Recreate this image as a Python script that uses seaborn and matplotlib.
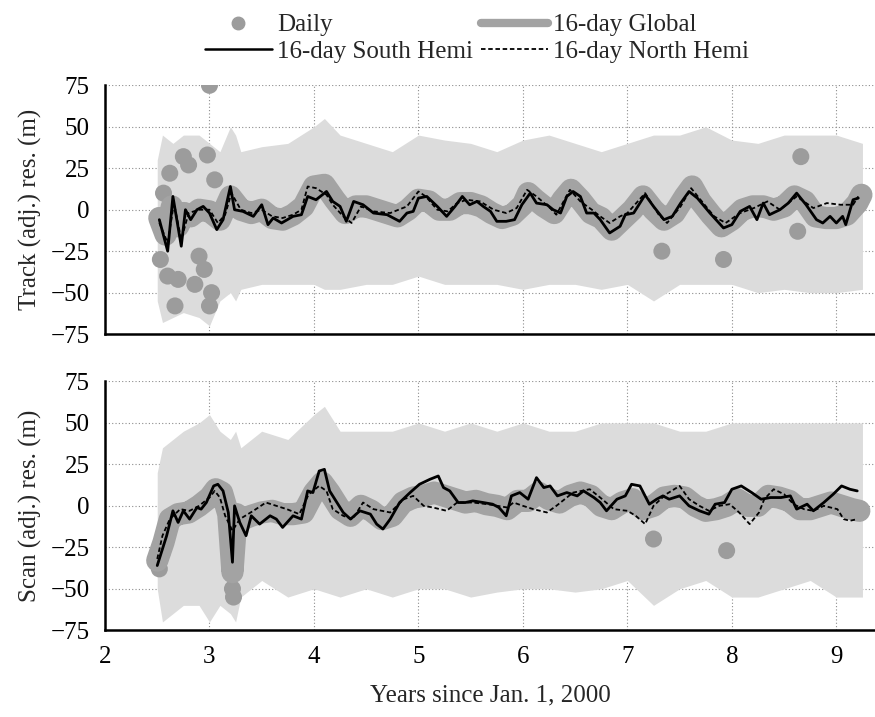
import matplotlib
matplotlib.use("Agg")
import matplotlib.pyplot as plt
from matplotlib.lines import Line2D
import seaborn as sns

# ---- data (years since 2000, residual in m) ----
# envelope of the daily error bars (grey cloud)
env_x = [2.50, 2.55, 2.65, 2.75, 2.90, 3.00, 3.10, 3.20, 3.25, 3.30, 3.50, 3.75,
         4.00, 4.10, 4.25, 4.50, 4.75, 5.00, 5.25, 5.50, 5.75, 6.00, 6.25, 6.50,
         6.75, 7.00, 7.25, 7.50, 7.75, 8.00, 8.25, 8.50, 8.75, 9.00, 9.25]
track_hi = [30, 45, 40, 45, 45, 40, 35, 50, 45, 35, 38, 40, 50, 55, 45, 40, 35, 45,
            42, 40, 35, 42, 45, 40, 35, 40, 45, 45, 50, 42, 40, 45, 45, 45, 40]
track_lo = [-55, -68, -65, -62, -65, -70, -55, -50, -55, -48, -45, -45, -45, -48,
            -48, -45, -45, -40, -45, -45, -45, -48, -45, -45, -48, -45, -55, -45,
            -45, -45, -50, -48, -50, -50, -48]
scan_hi = [20, 35, 40, 45, 50, 55, 45, 40, 45, 35, 45, 40, 55, 60, 45, 45, 45, 50,
           45, 50, 45, 50, 45, 45, 50, 50, 50, 45, 45, 50, 50, 50, 50, 50, 50]
scan_lo = [-50, -70, -65, -60, -60, -70, -60, -65, -70, -55, -45, -55, -50, -52,
           -55, -50, -55, -50, -50, -55, -52, -50, -50, -52, -50, -45, -60, -50,
           -45, -55, -55, -50, -45, -55, -55]

# daily points that stand out from the 16-day band
track_daily_x = [2.53, 2.56, 2.60, 2.62, 2.67, 2.70, 2.75, 2.80, 2.86, 2.90, 2.95,
                 2.98, 3.00, 3.00, 3.02, 3.05, 7.33, 7.92, 8.63, 8.66]
track_daily_y = [-30, 10, -40, 22, -58, -42, 32, 27, -45, -28, -36, 33, 75, -58,
                 -50, 18, -25, -30, -13, 32]
scan_daily_x = [2.52, 2.55, 3.20, 3.22, 3.23, 7.25, 7.95]
scan_daily_y = [-38, -28, -30, -50, -55, -20, -27]

# track: 16-day global
track_glob_x = [2.52, 2.58, 2.64, 2.70, 2.76, 2.82, 2.90, 3.00, 3.10, 3.20, 3.30,
                3.40, 3.50, 3.60, 3.70, 3.80, 3.90, 4.00, 4.10, 4.20, 4.30, 4.40,
                4.50, 4.60, 4.70, 4.80, 4.90, 5.00, 5.10, 5.20, 5.30, 5.40, 5.50,
                5.60, 5.70, 5.80, 5.90, 6.00, 6.05, 6.12, 6.20, 6.30, 6.38, 6.46,
                6.55, 6.65, 6.75, 6.85, 6.95, 7.05, 7.15, 7.25, 7.35, 7.45, 7.55,
                7.62, 7.70, 7.80, 7.90, 8.00, 8.10, 8.20, 8.30, 8.40, 8.50, 8.60,
                8.70, 8.80, 8.90, 9.00, 9.10, 9.20, 9.24]
track_glob_y = [-5, -15, 2, -10, -2, -4, 0, -1, -6, 8, 0, -2, 0, -5, -6, -3, 2, 14,
                15, 6, -2, 2, 2, 0, -2, -4, 0, 6, 5, 0, 0, 4, 4, 2, -2, -5, -3, 3,
                10, 6, 2, -2, 6, 12, 6, -2, -5, -12, -6, 0, 8, 0, -6, -2, 8, 14, 5,
                -3, -10, -6, 0, 2, 2, 0, 2, 8, 5, -4, -5, -5, -3, 4, 9]
# track: 16-day south hemisphere
track_south_x = [2.52, 2.60, 2.65, 2.73, 2.77, 2.82, 2.88, 2.94, 3.00, 3.07, 3.13,
                 3.20, 3.24, 3.32, 3.42, 3.50, 3.56, 3.61, 3.69, 3.80, 3.88, 3.94,
                 4.02, 4.12, 4.18, 4.25, 4.31, 4.38, 4.47, 4.57, 4.70, 4.82, 4.89,
                 4.95, 5.00, 5.08, 5.18, 5.27, 5.35, 5.42, 5.49, 5.56, 5.62, 5.69,
                 5.75, 5.84, 5.92, 5.99, 6.07, 6.13, 6.23, 6.29, 6.36, 6.42, 6.48,
                 6.55, 6.61, 6.68, 6.74, 6.83, 6.93, 6.98, 7.06, 7.17, 7.25, 7.35,
                 7.43, 7.51, 7.59, 7.67, 7.79, 7.92, 8.00, 8.08, 8.17, 8.24, 8.30,
                 8.36, 8.46, 8.54, 8.62, 8.71, 8.81, 8.87, 8.94, 9.00, 9.06, 9.09,
                 9.16, 9.21]
track_south_y = [-6, -25, 8, -22, 0, -6, 0, 2, -2, -12, -6, 14, 0, -1, -4, 3, -9,
                 -5, -8, -4, -3, 8, 6, 11, 5, 2, -7, 5, 3, -2, -3, -7, -2, -1, 7,
                 8, 2, -4, 2, 8, 3, 5, 2, -1, -7, -7, -6, 3, 10, 4, 3, 0, -2, 8,
                 11, 8, -2, -2, -6, -14, -10, -3, -2, 9, 2, -6, -4, 4, 11, 7, -2,
                 -11, -9, -1, 2, -6, 4, -3, 0, 4, 10, 3, -6, -8, -4, -8, -4, -9,
                 6, 7]
# track: 16-day north hemisphere
track_north_x = [2.52, 2.60, 2.66, 2.73, 2.80, 2.90, 3.00, 3.08, 3.15, 3.21, 3.30,
                 3.40, 3.50, 3.60, 3.70, 3.80, 3.88, 3.94, 4.02, 4.12, 4.18, 4.28,
                 4.36, 4.45, 4.57, 4.73, 4.89, 5.00, 5.07, 5.18, 5.28, 5.37, 5.46,
                 5.59, 5.72, 5.84, 5.94, 6.04, 6.13, 6.26, 6.32, 6.45, 6.55, 6.66,
                 6.74, 6.83, 6.93, 7.00, 7.17, 7.30, 7.38, 7.51, 7.61, 7.70, 7.83,
                 7.94, 8.08, 8.21, 8.34, 8.46, 8.62, 8.78, 8.91, 9.04, 9.16, 9.21]
track_north_y = [-8, -20, 4, -18, -2, 0, 0, -8, -3, 10, 0, -2, 0, -4, -5, -3, 0,
                 14, 13, 9, 3, -4, -8, 2, -1, -2, 2, 11, 8, 0, -1, 4, 6, 5, 0, -2,
                 1, 12, 8, 1, -3, 12, 5, 0, -4, -8, -4, -2, 10, -3, -8, 2, 13, 6,
                 -4, -8, -2, 1, 5, 0, 8, 1, 4, 3, 3, 8]

# scan: 16-day global
scan_glob_x = [2.50, 2.56, 2.62, 2.70, 2.80, 2.90, 3.00, 3.06, 3.12, 3.18, 3.22,
               3.26, 3.32, 3.40, 3.50, 3.60, 3.70, 3.80, 3.90, 4.00, 4.08, 4.15,
               4.25, 4.35, 4.45, 4.55, 4.65, 4.75, 4.85, 4.95, 5.05, 5.15, 5.25,
               5.35, 5.45, 5.55, 5.65, 5.75, 5.85, 5.95, 6.05, 6.15, 6.25, 6.35,
               6.45, 6.55, 6.65, 6.75, 6.85, 6.95, 7.05, 7.15, 7.25, 7.35, 7.45,
               7.55, 7.65, 7.75, 7.85, 7.95, 8.05, 8.15, 8.25, 8.35, 8.45, 8.55,
               8.65, 8.75, 8.85, 8.95, 9.05, 9.15, 9.22]
scan_glob_y = [-33, -22, -8, -5, -4, 0, 5, 10, 8, -5, -40, -5, -8, -6, -4, -3, -5,
               -5, -4, 8, 14, 8, -2, -6, 0, -3, -8, -6, 2, 5, 6, 8, 6, 4, 2, 3, 1,
               0, -2, 3, 3, 8, 4, 2, 6, 8, 6, 0, -2, 2, 4, -2, 0, 5, 6, 5, 0, -3,
               -2, 0, 4, 0, 0, 6, 5, 3, -2, -2, 0, 2, 0, -2, -3]
# scan: 16-day south hemisphere
scan_south_x = [2.50, 2.53, 2.59, 2.65, 2.70, 2.75, 2.81, 2.88, 2.92, 2.97, 3.04,
                3.08, 3.13, 3.18, 3.22, 3.24, 3.29, 3.35, 3.40, 3.48, 3.58, 3.64,
                3.70, 3.80, 3.88, 3.94, 3.99, 4.05, 4.10, 4.15, 4.21, 4.28, 4.35,
                4.44, 4.54, 4.60, 4.66, 4.73, 4.82, 4.92, 5.01, 5.11, 5.19, 5.24,
                5.30, 5.38, 5.45, 5.52, 5.62, 5.71, 5.77, 5.84, 5.89, 5.97, 6.05,
                6.13, 6.20, 6.26, 6.33, 6.42, 6.52, 6.58, 6.68, 6.74, 6.80, 6.90,
                6.98, 7.04, 7.12, 7.21, 7.28, 7.34, 7.40, 7.50, 7.59, 7.69, 7.78,
                7.84, 7.93, 8.00, 8.09, 8.19, 8.28, 8.37, 8.47, 8.56, 8.62, 8.72,
                8.78, 8.88, 8.97, 9.05, 9.13, 9.20]
scan_south_y = [-36, -30, -18, -3, -10, -3, -8, -1, -2, 2, 12, 13, 9, -4, -34, 0,
                -10, -18, -6, -11, -6, -8, -13, -6, -8, 9, 8, 21, 22, 9, 3, -4, -8,
                -3, -5, -11, -14, -8, 2, 8, 13, 16, 18, 11, 9, 2, 2, 3, 2, 1, -1,
                -6, 6, 8, 4, 17, 11, 12, 6, 8, 6, 9, 5, 2, -3, 4, 6, 13, 12, 1, 4,
                6, 4, 6, 0, -3, -5, 1, 2, 10, 12, 8, 4, 5, 5, 6, -2, 1, -3, 2, 7,
                12, 10, 9]
# scan: 16-day north hemisphere
scan_north_x = [2.50, 2.55, 2.62, 2.72, 2.81, 2.90, 3.00, 3.05, 3.10, 3.15, 3.22,
                3.29, 3.42, 3.54, 3.64, 3.74, 3.86, 3.95, 4.05, 4.12, 4.18, 4.28,
                4.37, 4.47, 4.57, 4.73, 4.86, 4.95, 5.05, 5.14, 5.27, 5.37, 5.52,
                5.66, 5.85, 5.91, 6.00, 6.10, 6.23, 6.32, 6.48, 6.64, 6.74, 6.87,
                7.00, 7.08, 7.17, 7.25, 7.37, 7.50, 7.59, 7.69, 7.78, 7.88, 7.98,
                8.07, 8.17, 8.26, 8.31, 8.40, 8.50, 8.59, 8.69, 8.78, 8.88, 9.01,
                9.07, 9.13, 9.20]
scan_north_y = [-32, -18, -8, -2, -3, 0, 5, 9, 5, -6, -15, -8, -3, 2, 0, -2, -5, 7,
                12, 9, -2, -6, -8, 2, -2, -4, 4, 6, 0, -1, -3, 2, 2, 1, -1, 2, 0,
                -2, -4, 0, 8, 10, 5, -2, -3, -6, -11, 0, 7, 12, 4, 0, -3, 0, 1, -4,
                -11, -4, 4, 10, 7, 1, -2, -3, 0, -2, -8, -9, -8]

y_ticks = [-75, -50, -25, 0, 25, 50, 75]
x_ticks = [2, 3, 4, 5, 6, 7, 8, 9]

CLOUD = "#dcdcdc"
BAND = "#a3a3a3"
DOT = "#9c9c9c"
FS = 18

sns.set_style("white")
plt.rcParams["font.family"] = ["Liberation Serif", "DejaVu Serif"]
plt.rcParams["font.size"] = FS

fig = plt.figure(figsize=(8.75, 7.17), dpi=100)
ax_top = fig.add_axes([0.12, 0.534, 0.88, 0.347])
ax_bot = fig.add_axes([0.12, 0.121, 0.88, 0.347])

panels = [
    (ax_top, track_hi, track_lo, track_daily_x, track_daily_y, track_glob_x,
     track_glob_y, track_south_x, track_south_y, track_north_x, track_north_y,
     "Track (adj.) res. (m)"),
    (ax_bot, scan_hi, scan_lo, scan_daily_x, scan_daily_y, scan_glob_x,
     scan_glob_y, scan_south_x, scan_south_y, scan_north_x, scan_north_y,
     "Scan (adj.) res. (m)"),
]

for (ax, hi, lo, dx, dy, gx, gy, sx, sy, nx, ny, ylab) in panels:
    ax.fill_between(env_x, lo, hi, color=CLOUD, lw=0, zorder=1)
    sns.scatterplot(x=dx, y=dy, ax=ax, color=DOT, s=150, edgecolor="none",
                    zorder=2, legend=False)
    sns.lineplot(x=gx, y=gy, ax=ax, color=BAND, lw=16, zorder=3,
                 solid_capstyle="round", solid_joinstyle="round")
    sns.lineplot(x=nx, y=ny, ax=ax, color="black", lw=1.3, zorder=4,
                 linestyle=(0, (2.5, 1.5)))
    sns.lineplot(x=sx, y=sy, ax=ax, color="black", lw=2.0, zorder=5)

    ax.set_xlim(2, 9.37)
    ax.set_ylim(-75, 75)
    ax.set_yticks(y_ticks)
    ax.set_xticks(x_ticks)
    ax.grid(True, color="#8c8c8c", linestyle=(0, (1, 2)), lw=0.8)
    ax.set_axisbelow(True)
    for side in ["top", "right"]:
        ax.spines[side].set_visible(False)
    for side in ["left", "bottom"]:
        ax.spines[side].set_color("black")
        ax.spines[side].set_linewidth(1.8)
    ax.tick_params(axis="both", direction="inout", length=8, width=1.5,
                   colors="black", labelsize=FS, pad=7)
    ax.set_ylabel(ylab, fontsize=FS, labelpad=6)
    ax.set_xlabel("")

ax_top.tick_params(axis="x", labelbottom=False)
ax_bot.set_xlabel("Years since Jan. 1, 2000", fontsize=FS, labelpad=12)

handles = [
    Line2D([], [], marker="o", ls="none", color=DOT, ms=9),
    Line2D([], [], color="black", lw=1.8),
    Line2D([], [], color=BAND, lw=6),
    Line2D([], [], color="black", lw=1.3, linestyle=(0, (2.5, 1.5))),
]
labels = ["Daily", "16-day South Hemi", "16-day Global", "16-day North Hemi"]
fig.legend(handles, labels, loc="upper center", bbox_to_anchor=(0.545, 1.012),
           ncol=2, frameon=False, fontsize=FS, handlelength=2.7,
           columnspacing=0.3, handletextpad=0.2, labelspacing=0.15)

plt.savefig("out.png", dpi=100)
plt.close()
